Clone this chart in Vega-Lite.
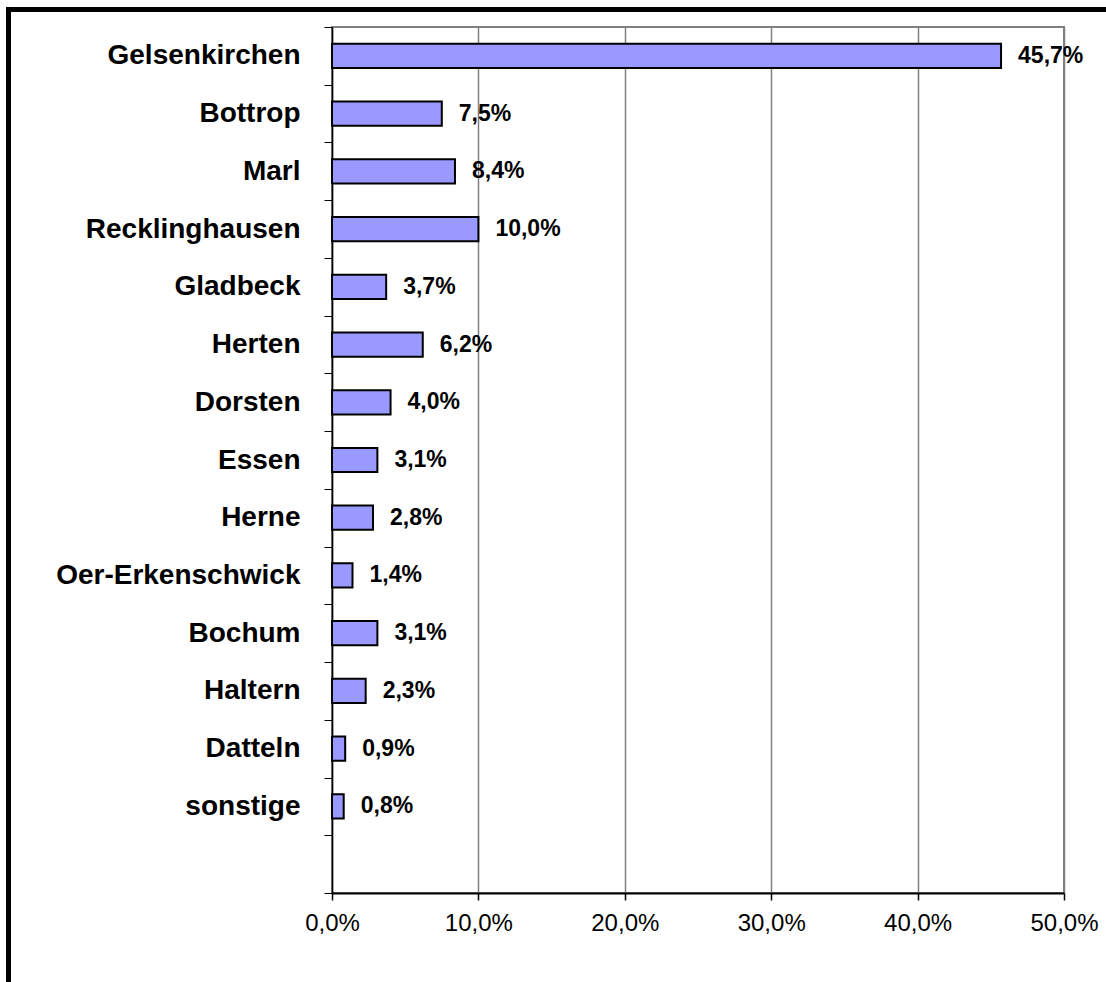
{
  "$schema": "https://vega.github.io/schema/vega-lite/v6.json",
  "width": 732,
  "height": 866,
  "autosize": "none",
  "padding": {"left": 332, "top": 27, "right": 42, "bottom": 89},
  "background": "white",
  "config": {
    "font": "Liberation Sans",
    "locale": {"number": {"decimal": ",", "thousands": ".", "grouping": [3], "currency": ["", " €"]}},
    "view": {"stroke": "#808080", "strokeWidth": 2}
  },
  "data": {
    "values": [
      {"ort": "Gelsenkirchen", "anteil": 0.457},
      {"ort": "Bottrop", "anteil": 0.075},
      {"ort": "Marl", "anteil": 0.084},
      {"ort": "Recklinghausen", "anteil": 0.100},
      {"ort": "Gladbeck", "anteil": 0.037},
      {"ort": "Herten", "anteil": 0.062},
      {"ort": "Dorsten", "anteil": 0.040},
      {"ort": "Essen", "anteil": 0.031},
      {"ort": "Herne", "anteil": 0.028},
      {"ort": "Oer-Erkenschwick", "anteil": 0.014},
      {"ort": "Bochum", "anteil": 0.031},
      {"ort": "Haltern", "anteil": 0.023},
      {"ort": "Datteln", "anteil": 0.009},
      {"ort": "sonstige", "anteil": 0.008}
    ]
  },
  "encoding": {
    "y": {
      "field": "ort",
      "type": "nominal",
      "scale": {
        "domain": ["Gelsenkirchen", "Bottrop", "Marl", "Recklinghausen", "Gladbeck", "Herten", "Dorsten", "Essen", "Herne", "Oer-Erkenschwick", "Bochum", "Haltern", "Datteln", "sonstige", ""],
        "paddingInner": 0,
        "paddingOuter": 0
      },
      "axis": {
        "title": null,
        "labelFontSize": 28,
        "labelFontWeight": "bold",
        "labelColor": "black",
        "labelPadding": 24,
        "labelLimit": 400,
        "tickSize": 8,
        "tickColor": "black",
        "tickWidth": 1,
        "tickBand": "extent",
        "domainColor": "black",
        "domainWidth": 1.5,
        "grid": false
      }
    },
    "x": {
      "field": "anteil",
      "type": "quantitative",
      "scale": {"domain": [0, 0.5], "nice": false},
      "axis": {
        "title": null,
        "format": ".1%",
        "values": [0, 0.1, 0.2, 0.3, 0.4, 0.5],
        "grid": true,
        "gridColor": "#808080",
        "gridWidth": 1.5,
        "labelFontSize": 24,
        "labelColor": "black",
        "labelFlush": false,
        "labelPadding": 11,
        "tickSize": 7,
        "tickColor": "black",
        "tickWidth": 1.5,
        "domainColor": "black",
        "domainWidth": 2
      }
    }
  },
  "layer": [
    {
      "mark": {"type": "bar", "fill": "#9999FF", "stroke": "black", "strokeWidth": 2, "height": {"band": 0.42}}
    },
    {
      "mark": {"type": "text", "align": "left", "baseline": "middle", "dx": 17, "fontSize": 23, "fontWeight": "bold", "color": "black"},
      "encoding": {"text": {"field": "anteil", "type": "quantitative", "format": ".1%"}}
    },
    {
      "data": {"values": [{"rahmen": "links"}]},
      "mark": {"type": "rule", "stroke": "black", "strokeWidth": 5, "clip": false},
      "encoding": {
        "x": {"value": -323.5},
        "y": {"value": -20},
        "y2": {"value": 955}
      }
    },
    {
      "data": {"values": [{"rahmen": "oben"}]},
      "mark": {"type": "rule", "stroke": "black", "strokeWidth": 5, "clip": false},
      "encoding": {
        "x": {"value": -326},
        "x2": {"value": 774},
        "y": {"value": -17.5}
      }
    }
  ]
}
